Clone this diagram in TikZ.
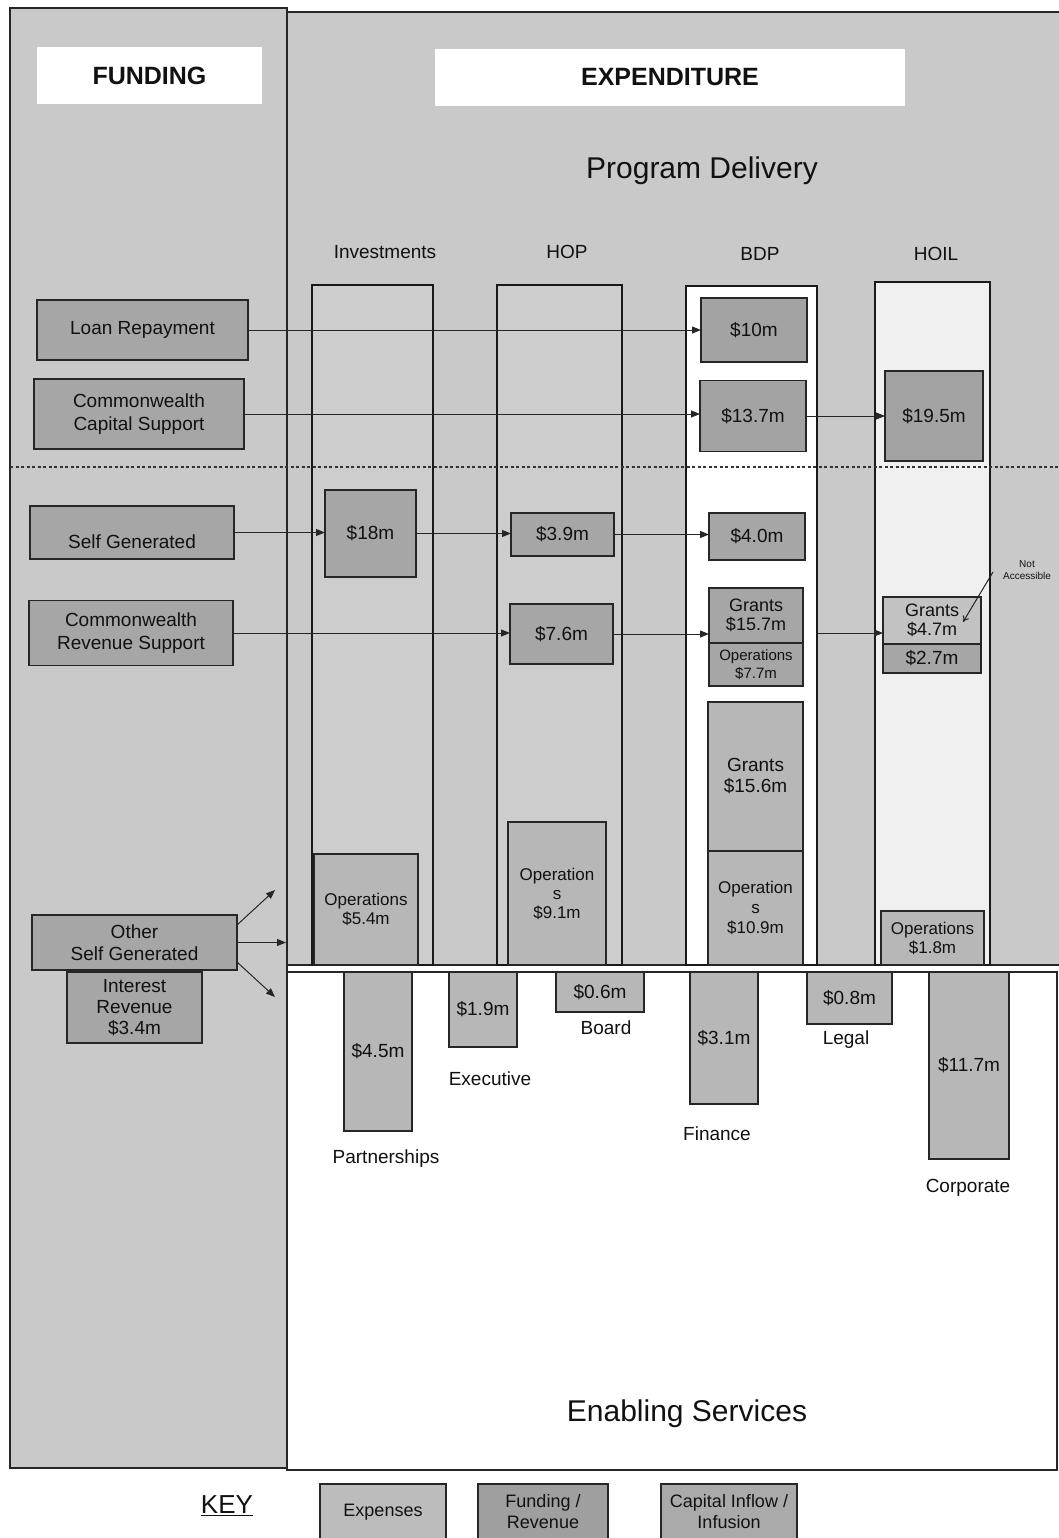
\documentclass[tikz,border=0pt]{standalone}
\usepackage{fontspec}
\setmainfont{Liberation Sans}
\usetikzlibrary{arrows.meta}
\definecolor{bgcol}{HTML}{C9C9C9}
\definecolor{fundcol}{HTML}{A6A6A6}
\definecolor{capcol}{HTML}{A3A3A3}
\definecolor{expcol}{HTML}{B7B7B7}
\definecolor{lightcol}{HTML}{C2C2C2}
\definecolor{hoilcol}{HTML}{F0F0F0}
\definecolor{colgrey}{HTML}{CDCDCD}
\definecolor{inkcol}{HTML}{111111}
\definecolor{keyexp}{HTML}{BCBCBC}
\definecolor{keyfund}{HTML}{9F9F9F}
\definecolor{keycap}{HTML}{AAAAAA}
\newcommand\fsz[2]{\fontsize{#1}{#2}\selectfont}
\begin{document}
\begin{tikzpicture}[x=1pt,y=-1pt,
  every node/.style={inner sep=0pt, outer sep=0pt, text=inkcol},
  box/.style={draw=black!85, line width=1.2pt, align=center, font=\fsz{19}{23}},
  fundbox/.style={box, fill=fundcol},
  capbox/.style={box, fill=capcol},
  expbox/.style={box, fill=expcol},
  colbox/.style={draw=black!90, line width=1.5pt},
  panel/.style={draw=black!85, line width=1.5pt},
  flow/.style={draw=black!85, line width=1pt, -{Triangle[length=9pt,width=7pt]}},
  lbl/.style={font=\fsz{19}{23}, align=center},
  headbox/.style={fill=white, font=\fsz{25}{28}\bfseries},
]
\fill[white] (0,0) rectangle (1059,1538);
\useasboundingbox (0,0) rectangle (1059,1538);

% panels
\filldraw[panel, fill=bgcol] (10,8) rectangle (287,1468);
\filldraw[panel, fill=bgcol] (287,12) rectangle (1066,965);
\filldraw[panel, fill=white] (287,972) rectangle (1057,1470);

% program delivery columns
\filldraw[colbox, fill=colgrey] (312,285) rectangle (433,965);
\filldraw[colbox, fill=colgrey] (497,285) rectangle (622,965);
\filldraw[colbox, fill=white] (686,286) rectangle (817,965);
\filldraw[colbox, fill=hoilcol] (875,282) rectangle (990,965);

% dotted divider
\draw[line width=1.3pt, dash pattern=on 3pt off 2.5pt, black!80] (10,467) -- (1066,467);

% headers
\node[headbox, minimum width=225pt, minimum height=57pt] (funding) at (149.5,75.5) {FUNDING};
\node[headbox, minimum width=470pt, minimum height=57pt] (expenditure) at (670,77.5) {EXPENDITURE};
\node[font=\fsz{30}{34}] (progdel) at (702,171) {Program Delivery};
\node[lbl] (hinv) at (385,252) {Investments};
\node[lbl] (hhop) at (567,252) {HOP};
\node[lbl] (hbdp) at (760,254) {BDP};
\node[lbl] (hhoil) at (936,254) {HOIL};

% funding boxes
\node[fundbox, minimum width=211pt, minimum height=60pt] (loan) at (142.5,330) {Loan Repayment};
\node[fundbox, minimum width=210pt, minimum height=70pt] (ccs) at (139,414) {Commonwealth\\Capital Support};
\node[fundbox, minimum width=204pt, minimum height=53pt] (sg) at (132,532.5) {};
\node[lbl] (sgtext) at (132,542) {Self Generated};
\node[fundbox, minimum width=204pt, minimum height=65pt] (crs) at (131,633) {Commonwealth\\Revenue Support};
\node[fundbox, minimum width=205pt, minimum height=55pt, font=\fsz{19}{22}] (osg) at (134.5,942.5) {Other\\Self Generated};
\node[fundbox, minimum width=135pt, minimum height=71pt, font=\fsz{19}{21}] (ir) at (134.5,1007.5) {Interest\\Revenue\\\$3.4m};

% program delivery boxes
\node[capbox, minimum width=106pt, minimum height=64pt] (d10) at (754,330) {\$10m};
\node[capbox, minimum width=106pt, minimum height=71pt] (d137) at (753,416) {\$13.7m};
\node[capbox, minimum width=98pt, minimum height=90pt] (d195) at (934,416) {\$19.5m};
\node[fundbox, minimum width=91pt, minimum height=87pt] (d18) at (370.5,533.5) {\$18m};
\node[fundbox, minimum width=103pt, minimum height=43pt] (d39) at (562.5,534.5) {\$3.9m};
\node[fundbox, minimum width=96pt, minimum height=47pt] (d40) at (757,536.5) {\$4.0m};
\node[fundbox, minimum width=103pt, minimum height=60pt] (d76) at (561.5,634) {\$7.6m};
\node[fundbox, minimum width=94pt, minimum height=55pt, font=\fsz{18}{19}] (g157) at (756,615.5) {Grants\\\$15.7m};
\node[fundbox, minimum width=94pt, minimum height=43pt, font=\fsz{15}{18}] (o77) at (756,664.5) {Operations\\\$7.7m};
\node[box, fill=lightcol, minimum width=98pt, minimum height=47pt, font=\fsz{18}{19}] (hg47) at (932,620.5) {Grants\\\$4.7m};
\node[fundbox, minimum width=98pt, minimum height=29pt] (d27) at (932,658.5) {\$2.7m};
\node[expbox, minimum width=95pt, minimum height=149pt, font=\fsz{19}{21}] (g156) at (755.5,776.5) {Grants\\\$15.6m};
\node[expbox, minimum width=95pt, minimum height=114pt, font=\fsz{17}{20}] (o109) at (755.5,908) {Operation\\s\\\$10.9m};
\node[expbox, minimum width=103pt, minimum height=54pt, font=\fsz{17}{19}] (o18) at (932.5,938) {Operations\\\$1.8m};
\node[expbox, minimum width=104pt, minimum height=111pt, font=\fsz{17}{19}] (o54) at (366,909.5) {Operations\\\$5.4m};
\node[expbox, minimum width=98pt, minimum height=143pt, font=\fsz{17}{19}] (o91) at (557,893.5) {Operation\\s\\\$9.1m};

% not accessible
\node[font=\fsz{10}{12}, align=center] (na) at (1027,570) {Not\\Accessible};
\coordinate (nastart) at (993,572);
\draw[black!85, line width=1pt, -{To[length=6pt,width=7pt]}] (nastart) -- (963,622);

% flows
\draw[flow] (loan.east) -- (loan.east -| d10.west);
\draw[flow] (ccs.east) -- (ccs.east -| d137.west);
\draw[flow] (d137.east) -- (d137.east -| d195.west);
\draw[flow] (sg.east) -- (sg.east -| d18.west);
\draw[flow] (d18.east) -- (d18.east -| d39.west);
\draw[flow] (d39.east) -- (d39.east -| d40.west);
\draw[flow] (crs.east) -- (crs.east -| d76.west);
\draw[flow] (d76.east) -- (d76.east -| g157.west);
\coordinate (bdpR) at (818,633);
\draw[flow] (bdpR) -- (bdpR -| hg47.west);

% other self generated outflows
\coordinate (osgup) at (275,890);
\coordinate (osgmid) at (286,942.5);
\coordinate (osgdown) at (275,997);
\draw[flow] ([yshift=-10pt]osg.north east) -- (osgup);
\draw[flow] (osg.east) -- (osgmid);
\draw[flow] ([yshift=8pt]osg.south east) -- (osgdown);

% enabling services
\node[expbox, minimum width=68pt, minimum height=159pt] (e45) at (378,1051.5) {\$4.5m};
\node[expbox, minimum width=68pt, minimum height=75pt] (e19) at (483,1009.5) {\$1.9m};
\node[expbox, minimum width=88pt, minimum height=40pt] (e06) at (600,992) {\$0.6m};
\node[expbox, minimum width=68pt, minimum height=132pt] (e31) at (724,1038) {\$3.1m};
\node[expbox, minimum width=85pt, minimum height=52pt] (e08) at (849.5,998) {\$0.8m};
\node[expbox, minimum width=80pt, minimum height=187pt] (e117) at (969,1065.5) {\$11.7m};
\node[lbl] (lpart) at (386,1159) {Partnerships};
\node[lbl] (lexec) at (490,1079) {Executive};
\node[lbl] (lboard) at (606,1028) {Board};
\node[lbl] (lfin) at (717,1134) {Finance};
\node[lbl] (llegal) at (846,1040) {Legal};
\node[lbl] (lcorp) at (968,1188) {Corporate};
\node[font=\fsz{30}{34}] (enabling) at (687,1414) {Enabling Services};

% key
\node[font=\fsz{26}{30}] (key) at (227,1506) {\underline{KEY}};
\node[box, fill=keyexp, minimum width=126pt, minimum height=56pt, font=\fsz{18}{21}] (kexp) at (383,1512) {Expenses};
\node[box, fill=keyfund, minimum width=130pt, minimum height=56pt, font=\fsz{18}{21}] (kfund) at (543,1512) {Funding /\\Revenue};
\node[box, fill=keycap, minimum width=136pt, minimum height=56pt, font=\fsz{18}{21}] (kcap) at (729,1512) {Capital Inflow /\\Infusion};
\end{tikzpicture}
\end{document}
